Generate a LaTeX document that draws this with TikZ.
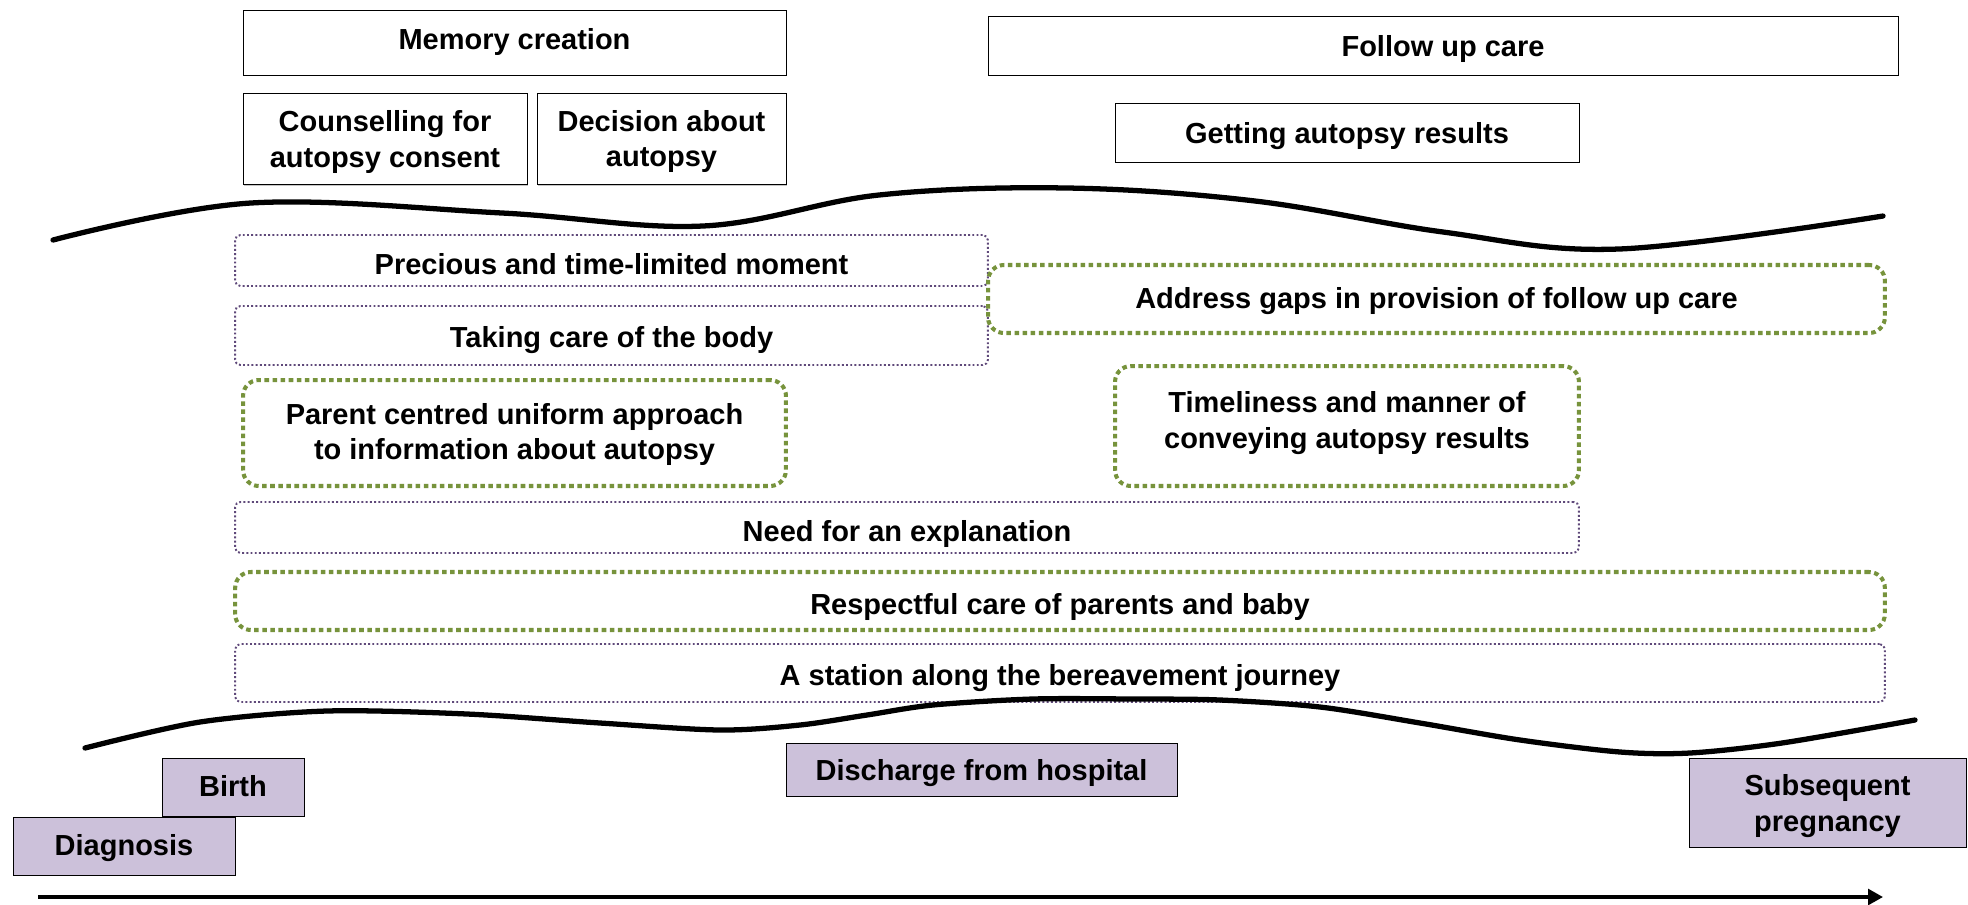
\documentclass[tikz,border=0pt]{standalone}
\usepackage{fontspec}
\setmainfont{Liberation Sans}
\usetikzlibrary{arrows.meta,shadows}

\definecolor{themepurple}{HTML}{5F497A}
\definecolor{themegreen}{HTML}{77933C}
\definecolor{eventfill}{HTML}{CCC1DA}

\tikzset{
  label font/.style={font=\bfseries\fontsize{16.5}{20}\selectfont, align=center},
  oneline/.style={text height=#1, text depth=3.5pt},
  oneline/.default=12pt,
  stagebox/.style={label font, draw=black, thin, fill=white, inner sep=0pt,
    drop shadow={shadow xshift=0.6pt, shadow yshift=-0.8pt, fill=black!45}},
  purplebox/.style={label font, draw=themepurple, line width=1.1pt,
    dash pattern=on 1.1pt off 1.3pt, rounded corners=3pt, inner sep=0pt},
  greenbox/.style={label font, draw=themegreen, line width=2.3pt,
    dash pattern=on 2.6pt off 2pt, rounded corners=9pt, inner sep=0pt},
  eventbox/.style={label font, draw=black, thin, fill=eventfill, inner sep=0pt,
    drop shadow={shadow xshift=0.6pt, shadow yshift=-0.8pt, fill=black!50}},
  wave/.style={line width=3pt, line cap=round}
}

\begin{document}
\begin{tikzpicture}[x=0.02cm, y=-0.02cm]
        \useasboundingbox (0,0) rectangle (1968,904);

        % Stages of care
        \node[stagebox, oneline, minimum width=10.86cm, minimum height=1.30cm] (memory) at (514.5,42.5) {Memory creation};
        \node[stagebox, minimum width=5.68cm, minimum height=1.82cm] (counsel) at (385,139) {\rule{0pt}{15.4pt}Counselling for\\autopsy consent};
        \node[stagebox, minimum width=4.98cm, minimum height=1.82cm] (decision) at (661.5,139) {\rule{0pt}{14.8pt}Decision about\\autopsy};
        \node[stagebox, oneline=16.2pt, minimum width=18.2cm, minimum height=1.18cm] (followup) at (1443,45.5) {Follow up care};
        \node[stagebox, oneline=16.2pt, minimum width=9.28cm, minimum height=1.18cm] (results) at (1347,132.5) {Getting autopsy results};

        % Upper boundary
        \draw[wave] plot[smooth, tension=0.6] coordinates {(53,240) (251,203) (502,213) (703,226) (879,195) (1067,188) (1255,201) (1443,232) (1619,249) (1883,216)};

        % Themes
        \node[purplebox, oneline=19pt, minimum width=15.06cm, minimum height=1.02cm] (precious) at (611.5,260.5) {Precious and time-limited moment};
        \node[purplebox, oneline=17.6pt, minimum width=15.06cm, minimum height=1.18cm] (body) at (611.5,335.5) {Taking care of the body};
        \node[greenbox, oneline=14.8pt, minimum width=17.94cm, minimum height=1.36cm] (gaps) at (1436.5,299) {Address gaps in provision of follow up care};
        \node[greenbox, minimum width=10.86cm, minimum height=2.12cm] (parent) at (514.5,433) {\rule{0pt}{14pt}Parent centred uniform approach\\to information about autopsy};
        \node[greenbox, minimum width=9.28cm, minimum height=2.40cm] (timely) at (1347,426) {Timeliness and manner of\\conveying autopsy results\rule[-6.9pt]{0pt}{6.9pt}};
        \node[purplebox, oneline=19pt, minimum width=26.88cm, minimum height=1.02cm] (explain) at (907,527.5) {Need for an explanation};
        \node[greenbox, oneline=19pt, minimum width=33cm, minimum height=1.16cm] (respect) at (1060,601) {Respectful care of parents and baby};
        \node[purplebox, oneline=17.6pt, minimum width=33cm, minimum height=1.16cm] (station) at (1060,673) {A station along the bereavement journey};

        % Lower boundary
        \draw[wave] plot[smooth, tension=0.5] coordinates {(85,748) (200,722) (327,711) (467,714) (600,723) (720,730) (800,725) (867,715) (933,705) (1033,699) (1133,699) (1220,700) (1320,707) (1420,723) (1520,740) (1620,752) (1690,753) (1782,743) (1915,720)};

        % Events
        \node[eventbox, oneline=14.8pt, minimum width=2.84cm, minimum height=1.16cm] (birth) at (233,787) {Birth};
        \node[eventbox, oneline=14.8pt, minimum width=4.44cm, minimum height=1.16cm] (diagnosis) at (124,846) {Diagnosis};
        \node[eventbox, oneline=16.2pt, minimum width=7.82cm, minimum height=1.06cm] (discharge) at (981.5,769.5) {Discharge from hospital};
        \node[eventbox, minimum width=5.54cm, minimum height=1.78cm] (pregnancy) at (1827.5,802.5) {\rule{0pt}{16pt}Subsequent\\pregnancy};

        % Time axis
        \coordinate (tstart) at (38,897);
        \coordinate (tend) at (1883,897);
        \draw[line width=1.8pt, -{Triangle[length=8.5pt, width=9pt]}] (tstart) -- (tend);

\end{tikzpicture}
\end{document}
